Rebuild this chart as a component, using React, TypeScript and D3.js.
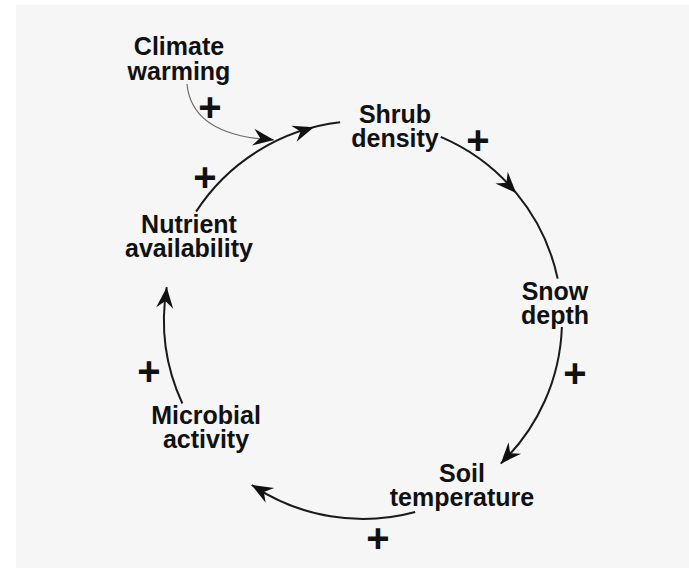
import React from "react";
import * as d3 from "d3";

// ---- data ----
const nodeNames = ["Shrub density", "Snow depth", "Soil temperature", "Microbial activity", "Nutrient availability"];
const nodeLines = [["Shrub", "density"], ["Snow", "depth"], ["Soil", "temperature"], ["Microbial", "activity"], ["Nutrient", "availability"]];
const driverLines = ["Climate", "warming"];
const linkSigns = ["+", "+", "+", "+", "+"];
const driverSign = "+";

// ---- layout (angles in degrees around loop centre) ----
const W = 689, H = 569;
const CX = 363, CY = 320, R = 199;
const nodePos: [number, number][] = [[395, 123], [555, 300], [462, 482], [206, 424], [189, 233]];
const linkArcs: [number, number][] = [[-67, -12], [2, 46.2], [74.8, 124], [155.2, 189.5], [-147, -96.6]];
const linkArrow = [-39.7, 46.2, 124, 189.5, -104.3];
const signPos: [number, number][] = [[478, 140], [575, 373], [378, 538], [149, 371], [205, 177]];
const driverPos: [number, number] = [179, 55];
const driverSignPos: [number, number] = [210, 107];

const rad = (d: number) => (d * Math.PI) / 180;
const ptAt = (a: number): [number, number] => [CX + R * Math.cos(rad(a)), CY + R * Math.sin(rad(a))];

function arrowHead(x: number, y: number, headingDeg: number, key: string, color = "#111") {
  const p = d3.path();
  p.moveTo(0, 0);
  p.lineTo(-21, -8.5);
  p.lineTo(-14, 0);
  p.lineTo(-21, 8.5);
  p.closePath();
  return <path key={key} d={p.toString()} fill={color} transform={`translate(${x},${y}) rotate(${headingDeg})`} />;
}

export default function App() {
  const font = "'Liberation Sans', Arial, Helvetica, sans-serif";
  const arcs = linkArcs.map(([a0, a1], i) => {
    const p = d3.path();
    p.arc(CX, CY, R, rad(a0), rad(a1), false);
    return <path key={"arc" + i} d={p.toString()} fill="none" stroke="#1a1a1a" strokeWidth={2} />;
  });
  const heads = linkArrow.map((a, i) => {
    const [x, y] = ptAt(a);
    return arrowHead(x, y, a + 90 - 4, "ah" + i);
  });
  // climate warming curve
  const cp = d3.path();
  cp.moveTo(187, 84);
  cp.quadraticCurveTo(192, 136, 274, 140);
  const labels = nodeLines.map((lines, i) => (
    <text key={"n" + i} x={nodePos[i][0]} y={nodePos[i][1]} textAnchor="middle" fontFamily={font} fontWeight="bold" fontSize={25} fill="#111">
      <title>{nodeNames[i]}</title>
      {lines.map((l, j) => (
        <tspan key={j} x={nodePos[i][0]} dy={j === 0 ? 0 : 24}>{l}</tspan>
      ))}
    </text>
  ));
  const signs = linkSigns.map((s, i) => (
    <text key={"s" + i} x={signPos[i][0]} y={signPos[i][1] + 13.5} textAnchor="middle" fontFamily={font} fontWeight="bold" fontSize={40} fill="#111">{s}</text>
  ));
  return (
    <svg width={W} height={H} style={{ position: "absolute", left: 0, top: 0 }}>
      <rect x={0} y={0} width={W} height={H} fill="#ffffff" />
      <rect x={16} y={5} width={W - 16} height={H - 6} fill="#f6f6f6" />
      {arcs}
      {heads}
      <path d={cp.toString()} fill="none" stroke="#6a6a6a" strokeWidth={1.2} />
      {arrowHead(274, 140, 8, "climate")}
      {labels}
      {signs}
      <text x={driverPos[0]} y={driverPos[1]} textAnchor="middle" fontFamily={font} fontWeight="bold" fontSize={25} fill="#111">
        {driverLines.map((l, j) => (
          <tspan key={j} x={driverPos[0]} dy={j === 0 ? 0 : 25}>{l}</tspan>
        ))}
      </text>
      <text x={driverSignPos[0]} y={driverSignPos[1] + 13.5} textAnchor="middle" fontFamily={font} fontWeight="bold" fontSize={40} fill="#111">{driverSign}</text>
    </svg>
  );
}
